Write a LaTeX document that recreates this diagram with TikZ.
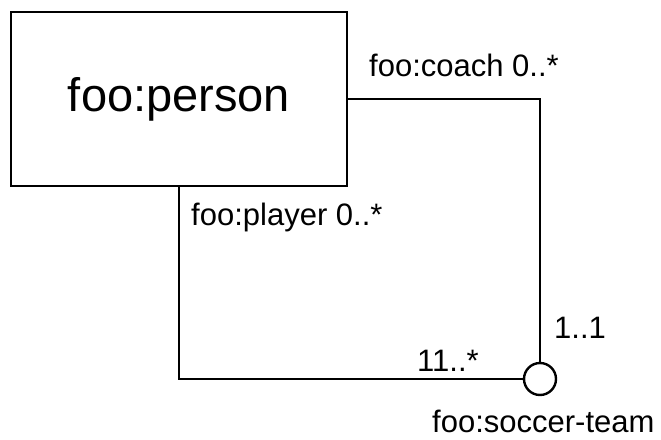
\documentclass[tikz,border=0pt]{standalone}
\usepackage{fontspec}
\setmainfont{Liberation Sans}
\tikzset{cls/.style = {rectangle, line width=2.4pt, draw, minimum width=336pt, minimum height=174pt, inner sep=0pt, font=\fontsize{47}{56}\selectfont},
           rl/.style = {circle, line width=2.4pt, draw, minimum size=32pt, inner sep=0pt},
           lb/.style = {anchor=base west, inner sep=0pt, font=\fontsize{31}{37}\selectfont}}

\begin{document}
\begin{tikzpicture}[x=1pt, y=-1pt]
    \useasboundingbox (0,0) rectangle (661,439);
    \node[cls] (person) at (179,99) {foo:person};
    \node[rl] (team) at (540,379) {};
    \draw[line width=2.4pt] (person.east) -| (team.north);
    \draw[line width=2.4pt] (person.south) |- (team.west);
    \node[lb] (coach) at (369,76) {foo:coach 0..*};
    \node[lb] (player) at (191,225) {foo:player 0..*};
    \node[lb] (one) at (554,338) {1..1};
    \node[lb] (many) at (417,371) {11..*};
    \node[lb] (teamname) at (432,432) {foo:soccer-team};
  \end{tikzpicture}
\end{document}
